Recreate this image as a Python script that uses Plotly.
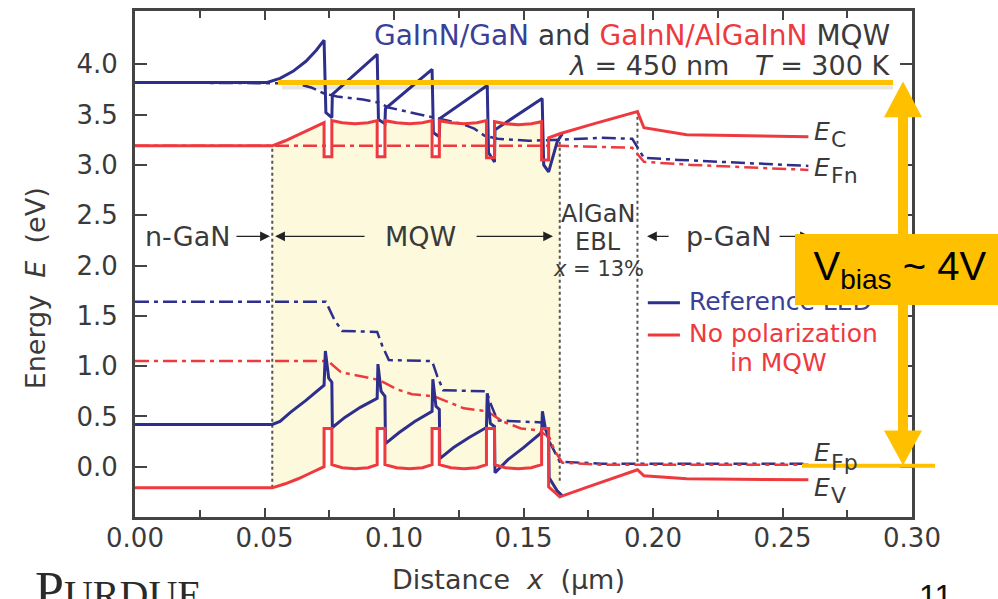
import plotly.graph_objects as go

# ---------------- band-diagram data: position x (µm), energy E (eV) ----------------
# Reference LED (GaInN/GaN MQW)
ref_ec_x = [0.000, 0.051, 0.056, 0.061, 0.066, 0.070, 0.0730, 0.0737, 0.0760, 0.0762,
            0.0935, 0.0940, 0.0965, 0.0967,
            0.1147, 0.1152, 0.1175, 0.1177,
            0.1360, 0.1365, 0.1388, 0.1390,
            0.1572, 0.1578, 0.1597, 0.1630, 0.1650]
ref_ec_e = [3.82, 3.82, 3.86, 3.93, 4.03, 4.14, 4.24, 3.52, 3.47, 3.70,
            4.10, 3.45, 3.41, 3.56,
            3.95, 3.32, 3.28, 3.46,
            3.79, 3.12, 3.03, 3.35,
            3.66, 3.00, 2.93, 3.23, 3.31]

ref_efn_x = [0.000, 0.062, 0.068, 0.073, 0.078, 0.088, 0.094, 0.098, 0.105, 0.112, 0.118,
             0.126, 0.131, 0.135, 0.140, 0.152, 0.164, 0.180, 0.192, 0.1965, 0.210, 0.235, 0.260]
ref_efn_e = [3.82, 3.81, 3.77, 3.71, 3.68, 3.65, 3.62, 3.57, 3.53, 3.49, 3.45,
             3.41, 3.36, 3.29, 3.26, 3.24, 3.25, 3.27, 3.26, 3.07, 3.05, 3.02, 2.99]

ref_ev_x = [0.000, 0.053, 0.056, 0.060, 0.066, 0.0730, 0.0735, 0.0748, 0.0760, 0.0762,
            0.081, 0.087, 0.0935, 0.0938, 0.0950, 0.0965, 0.0967,
            0.102, 0.108, 0.1147, 0.1150, 0.1162, 0.1175, 0.1177,
            0.123, 0.129, 0.1357, 0.1360, 0.1372, 0.1388, 0.1390,
            0.144, 0.150, 0.1570, 0.1573, 0.1585, 0.1597, 0.1599, 0.1630, 0.1650]
ref_ev_e = [0.42, 0.42, 0.45, 0.54, 0.66, 0.81, 1.15, 0.88, 0.84, 0.39,
            0.49, 0.59, 0.68, 1.02, 0.75, 0.70, 0.23,
            0.34, 0.45, 0.55, 0.87, 0.60, 0.57, 0.08,
            0.19, 0.29, 0.39, 0.73, 0.43, 0.40, -0.06,
            0.07, 0.19, 0.34, 0.55, 0.37, 0.30, -0.11, -0.24, -0.29]

ref_efp_x = [0.000, 0.0737, 0.0770, 0.0800, 0.0935, 0.0955, 0.0980, 0.1147, 0.1167, 0.1190,
             0.1357, 0.1377, 0.1400, 0.1570, 0.1600, 0.1640, 0.1800, 0.2600]
ref_efp_e = [1.64, 1.64, 1.46, 1.35, 1.34, 1.20, 1.06, 1.05, 0.90, 0.76,
             0.75, 0.60, 0.46, 0.44, 0.25, 0.05, 0.03, 0.03]

# LED without polarization in the MQW (GaInN/AlGaInN)
np_ec_x = [0.000, 0.053, 0.058, 0.063, 0.068, 0.0730, 0.0730, 0.0760, 0.0760,
           0.080, 0.085, 0.090, 0.0935, 0.0935, 0.0965, 0.0965,
           0.101, 0.106, 0.111, 0.1147, 0.1147, 0.1175, 0.1175,
           0.122, 0.127, 0.132, 0.1357, 0.1357, 0.1388, 0.1388,
           0.143, 0.148, 0.153, 0.1570, 0.1570, 0.1597, 0.1597,
           0.164, 0.176, 0.194, 0.1965, 0.213, 0.260]
np_ec_e = [3.19, 3.19, 3.24, 3.30, 3.36, 3.42, 3.08, 3.08, 3.44,
           3.42, 3.41, 3.42, 3.44, 3.08, 3.08, 3.44,
           3.42, 3.41, 3.42, 3.44, 3.08, 3.08, 3.44,
           3.42, 3.41, 3.42, 3.44, 3.07, 3.07, 3.43,
           3.41, 3.40, 3.41, 3.43, 3.05, 3.05, 3.27,
           3.31, 3.40, 3.53, 3.37, 3.30, 3.28]

np_efn_x = [0.000, 0.100, 0.164, 0.192, 0.1965, 0.215, 0.240, 0.260]
np_efn_e = [3.19, 3.19, 3.19, 3.17, 3.03, 3.00, 2.97, 2.95]

np_ev_x = np_ec_x
np_ev_e = [-0.21, -0.21, -0.17, -0.12, -0.06, 0.00, 0.38, 0.38, 0.02,
           -0.01, -0.02, -0.01, 0.02, 0.38, 0.38, 0.02,
           -0.01, -0.02, -0.01, 0.02, 0.38, 0.38, 0.02,
           -0.01, -0.02, -0.01, 0.02, 0.38, 0.38, 0.02,
           -0.01, -0.02, -0.01, 0.02, 0.38, 0.38, -0.20,
           -0.30, -0.19, -0.03, -0.09, -0.12, -0.13]

np_efp_x = [0.000, 0.0745, 0.0795, 0.087, 0.0945, 0.101, 0.107, 0.1155, 0.121, 0.127,
            0.136, 0.142, 0.149, 0.156, 0.160, 0.162, 0.165, 0.180, 0.260]
np_efp_e = [1.05, 1.05, 0.94, 0.90, 0.86, 0.77, 0.72, 0.70, 0.64, 0.58,
            0.55, 0.45, 0.38, 0.36, 0.29, 0.16, 0.04, 0.02, 0.02]

# Layer boundaries (µm) and the energy span of their dotted markers (eV)
mqw_start, mqw_end, ebl_end = 0.053, 0.164, 0.194
edge_x = [mqw_start, mqw_end, ebl_end]
edge_lo = [-0.21, -0.14, 0.05]
edge_hi = [3.19, 3.31, 3.53]

# Axis ticks
x_ticks = [0.00, 0.05, 0.10, 0.15, 0.20, 0.25, 0.30]
x_tick_text = ["0.00", "0.05", "0.10", "0.15", "0.20", "0.25", "0.30"]
y_ticks = [0.0, 0.5, 1.0, 1.5, 2.0, 2.5, 3.0, 3.5, 4.0]
y_tick_text = ["0.0", "0.5", "1.0", "1.5", "2.0", "2.5", "3.0", "3.5", "4.0"]

# ---------------- styling ----------------
NAVY = "#2e2f8c"
NAVY_TXT = "#3a3f98"
RED = "#ee3a3f"
GOLD = "#ffc000"
AXC = "#444444"
TXT = "#3a3a3a"
FONT = "DejaVu Sans"
DASHDOT = "14px,5px,4px,5px"

W, H = 998, 599
ML, MR, MT, MB = 135, 86, 8, 82
PW, PH = W - ML - MR, H - MT - MB


def paper_x(px):
    return (px - ML) / PW


def paper_y(py):
    return (H - MB - py) / PH


fig = go.Figure()

# MQW region shading: between the no-polarization Ec and Ev inside the MQW
fill_x, fill_y = [], []
for xv, ev in zip(np_ec_x, np_ec_e):
    if mqw_start <= xv <= mqw_end:
        fill_x.append(xv)
        fill_y.append(ev)
for xv, ev in reversed(list(zip(np_ev_x, np_ev_e))):
    if mqw_start <= xv <= mqw_end:
        fill_x.append(xv)
        fill_y.append(ev)
fig.add_trace(go.Scatter(x=fill_x, y=fill_y, fill="toself", fillcolor="#fcf9dc",
                         mode="lines", line=dict(width=0), hoverinfo="skip"))

# dotted layer boundaries
for xe, lo, hi in zip(edge_x, edge_lo, edge_hi):
    fig.add_trace(go.Scatter(x=[xe, xe], y=[lo, hi], mode="lines",
                             line=dict(color="#555555", width=2, dash="dot"),
                             hoverinfo="skip"))

# quasi-Fermi levels (dash-dot)
for xs, ys, col in [(ref_efn_x, ref_efn_e, NAVY), (ref_efp_x, ref_efp_e, NAVY),
                    (np_efn_x, np_efn_e, RED), (np_efp_x, np_efp_e, RED)]:
    fig.add_trace(go.Scatter(x=xs, y=ys, mode="lines",
                             line=dict(color=col, width=2.5, dash=DASHDOT),
                             hoverinfo="skip"))

# band edges (solid)
for xs, ys, col in [(ref_ec_x, ref_ec_e, NAVY), (ref_ev_x, ref_ev_e, NAVY),
                    (np_ec_x, np_ec_e, RED), (np_ev_x, np_ev_e, RED)]:
    fig.add_trace(go.Scatter(x=xs, y=ys, mode="lines",
                             line=dict(color=col, width=3), hoverinfo="skip"))

axis_common = dict(showline=True, linewidth=3, linecolor=AXC, mirror="ticks",
                   ticks="inside", tickwidth=2, tickcolor=AXC, showgrid=False,
                   zeroline=False, tickfont=dict(family=FONT, size=26, color=TXT))
fig.update_xaxes(range=[0, 0.30], tickmode="array", tickvals=x_ticks, ticktext=x_tick_text,
                 ticklen=9, ticklabelstandoff=-4,
                 minor=dict(tickmode="linear", tick0=0, dtick=0.025, ticks="inside",
                            ticklen=7, tickwidth=2, tickcolor=AXC),
                 **axis_common)
fig.update_yaxes(range=[-0.5, 4.53], tickmode="array", tickvals=y_ticks, ticktext=y_tick_text,
                 ticklen=12, ticklabelstandoff=9, **axis_common)

ann = []


def text(x, y, s, size=26, color=TXT, xanchor="center", yanchor="middle", ref="data", **kw):
    d = dict(x=x, y=y, text=s, showarrow=False, xanchor=xanchor, yanchor=yanchor,
             font=dict(family=kw.pop("family", FONT), size=size, color=color))
    if ref == "data":
        d.update(xref="x", yref="y")
    else:
        d.update(xref="paper", yref="paper")
    d.update(kw)
    ann.append(d)


def arrow(x_head, x_tail, y):
    ann.append(dict(x=x_head, y=y, ax=x_tail, ay=y, xref="x", yref="y", axref="x", ayref="y",
                    text="", showarrow=True, arrowhead=2, arrowsize=1.4, arrowwidth=1.4,
                    arrowcolor="#222222"))


# region labels with arrows
y_lab = 2.29
text(0.0205, y_lab, "n-GaN", size=27)
arrow(0.0521, 0.0386, y_lab)
text(0.1104, y_lab, "MQW", size=27)
arrow(0.0541, 0.0892, y_lab)
arrow(0.1614, 0.1313, y_lab)
text(0.2293, y_lab, "p-GaN", size=27)
arrow(0.1977, 0.2066, y_lab)
arrow(0.2606, 0.2483, y_lab)

# EBL label
text(0.1788, 2.51, "AlGaN", size=24)
text(0.1788, 2.23, "EBL", size=24)
text(0.1788, 1.97, "<i>x</i> = 13%", size=21)

# band / level labels
for e_y, sub, sub_y in [(3.33, "C", 3.25), (2.97, "Fn", 2.89), (0.14, "Fp", 0.04), (-0.21, "V", -0.29)]:
    text(0.2614, e_y, "<i>E</i>", size=25, xanchor="left")
    text(0.2680, sub_y, sub, size=22, xanchor="left")

# legend
fig.add_shape(type="line", x0=0.198, x1=0.2104, y0=1.63, y1=1.63, xref="x", yref="y",
              line=dict(color=NAVY, width=3))
fig.add_shape(type="line", x0=0.198, x1=0.2104, y0=1.31, y1=1.31, xref="x", yref="y",
              line=dict(color=RED, width=3))
text(0.2131, 1.64, "Reference LED", size=25, color=NAVY_TXT, xanchor="left")
text(0.2131, 1.32, "No polarization", size=25, color=RED, xanchor="left")
text(0.2483, 1.04, "in MQW", size=25, color=RED)

# headline
text(0.2923, 4.29,
     f"<span style='color:{NAVY_TXT}'>GaInN/GaN</span> and "
     f"<span style='color:{RED}'>GaInN/AlGaInN</span> MQW",
     size=28, xanchor="right")
text(0.2923, 3.99, "<i>λ</i> = 450 nm\u00a0\u00a0\u00a0<i>T</i> = 300 K", size=27, xanchor="right")

# axis titles
text(paper_x(508), paper_y(580), "Distance\u00a0\u00a0<i>x</i>\u00a0\u00a0(μm)", size=27, ref="paper")
text(paper_x(35), paper_y(287), "Energy\u00a0\u00a0<i>E</i>\u00a0\u00a0(eV)", size=27, ref="paper",
     textangle=-90)

# slide footer
text(paper_x(33), paper_y(560), "P<span style='font-size:40px'>URDUE</span>", size=52,
     color="#2a2a2a", xanchor="left", yanchor="top", ref="paper", family="Liberation Serif")
text(paper_x(935), paper_y(576), "11", size=32, color="#111111", yanchor="top", ref="paper",
     family="Liberation Sans")

# bias callout (drawn last so it sits on top)
ann.append(dict(x=paper_x(795), y=paper_y(232), xref="paper", yref="paper",
                xanchor="left", yanchor="top", width=210, height=71, bgcolor=GOLD,
                borderpad=0, borderwidth=0, showarrow=False, align="center", valign="middle",
                text="V<sub>bias</sub> ~ 4V",
                font=dict(family="Liberation Sans", size=40, color="#000000")))

# bias markers: level lines and double arrow
fig.add_shape(type="line", xref="paper", yref="paper", x0=paper_x(282), x1=paper_x(893),
              y0=paper_y(85), y1=paper_y(85), line=dict(color="rgba(0,0,0,0.10)", width=4))
fig.add_shape(type="line", xref="paper", yref="paper", x0=paper_x(278), x1=paper_x(893),
              y0=paper_y(80), y1=paper_y(80), line=dict(color=GOLD, width=5))
fig.add_shape(type="line", xref="paper", yref="paper", x0=paper_x(802), x1=paper_x(935),
              y0=paper_y(465.5), y1=paper_y(465.5), line=dict(color=GOLD, width=4))
fig.add_shape(type="line", xref="paper", yref="paper", x0=paper_x(903), x1=paper_x(903),
              y0=paper_y(112), y1=paper_y(433), line=dict(color=GOLD, width=10))
fig.add_shape(type="path", xref="paper", yref="paper", fillcolor=GOLD, line=dict(width=0),
              path=f"M {paper_x(884)} {paper_y(115)} L {paper_x(903)} {paper_y(79)} "
                   f"L {paper_x(922)} {paper_y(115)} Z")
fig.add_shape(type="path", xref="paper", yref="paper", fillcolor=GOLD, line=dict(width=0),
              path=f"M {paper_x(884)} {paper_y(430)} L {paper_x(903)} {paper_y(465)} "
                   f"L {paper_x(922)} {paper_y(430)} Z")

fig.update_layout(width=W, height=H, margin=dict(l=ML, r=MR, t=MT, b=MB),
                  paper_bgcolor="white", plot_bgcolor="white", showlegend=False,
                  annotations=ann)

fig.write_html("out.html")
